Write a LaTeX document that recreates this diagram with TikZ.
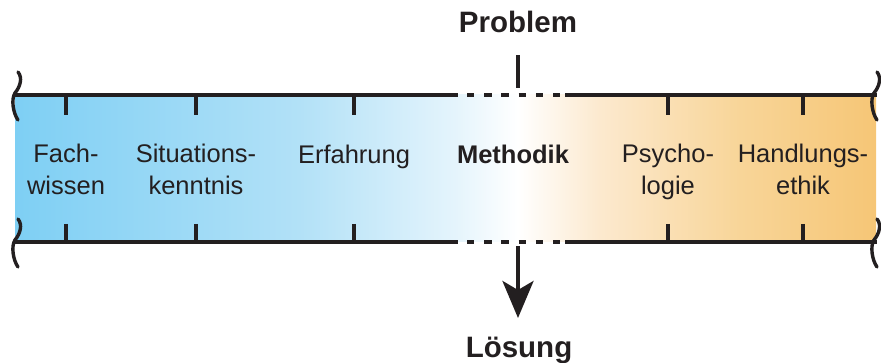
\documentclass[tikz,border=0pt]{standalone}
\usepackage{fontspec}
\setmainfont{Liberation Sans}
\usetikzlibrary{arrows.meta}
\definecolor{ink}{HTML}{231F20}
\definecolor{bandA}{RGB}{126,207,244}
\definecolor{bandB}{RGB}{178,225,247}
\definecolor{bandC}{RGB}{228,244,252}
\definecolor{bandD}{RGB}{252,233,206}
\definecolor{bandE}{RGB}{248,213,152}
\definecolor{bandF}{RGB}{246,198,118}
% horizontal colour run of the band (25bp = left edge, 75bp = right edge)
\pgfdeclarehorizontalshading{bandshade}{100bp}{%
  color(0bp)=(bandA); color(25bp)=(bandA); color(41.5bp)=(bandB);
  color(50.5bp)=(bandC); color(54.2bp)=(white); color(59bp)=(bandD);
  color(67.1bp)=(bandE); color(75bp)=(bandF); color(100bp)=(bandF)}
\tikzset{
  rule/.style={ink, line width=3.6pt},
  tick/.style={ink, line width=4pt},
  wave/.style={ink, line width=3.4pt, line cap=round},
  gap/.style={ink, line width=3.6pt, dash pattern=on 7.4pt off 9.8pt},
  lbl/.style={text=ink, align=center, font=\fontsize{25.5pt}{32pt}\selectfont, anchor=base, inner sep=0pt},
  head/.style={text=ink, font=\bfseries\fontsize{29.5pt}{34pt}\selectfont, anchor=base, inner sep=0pt},
}
\begin{document}
\begin{tikzpicture}[x=1pt,y=-1pt]
\useasboundingbox (0,0) rectangle (881,363);
% coloured band
\shade[shading=bandshade] (15,95) rectangle (876,242);
% upper and lower rules, broken in the middle
\foreach \y in {95,242}{
  \draw[rule] (14,\y) -- (458,\y);
  \draw[gap] (467,\y) -- (561,\y);
  \draw[rule] (565,\y) -- (877,\y);
}
% ticks
\foreach \x in {66,196,354,668,803}{
  \draw[tick] (\x,93.5) -- (\x,115);
  \draw[tick] (\x,224) -- (\x,243.5);
}
% wavy break marks at both ends
\foreach \dx in {0,859}{
  \foreach \dy in {0,147}{
    \draw[wave] (18+\dx,72+\dy) .. controls (23+\dx,78+\dy) and (20+\dx,87+\dy) .. (15+\dx,93+\dy)
                .. controls (11+\dx,99+\dy) and (13+\dx,113+\dy) .. (18+\dx,120+\dy);
  }
}
% labels (two-line labels sit on the baseline of their last line)
\node[lbl] (fach) at (66,195) {Fach-\\wissen};
\node[lbl] (sit) at (196,195) {Situations-\\kenntnis};
\node[lbl] (erf) at (354,164) {Erfahrung};
\node[lbl, font=\bfseries\fontsize{25.5pt}{32pt}\selectfont] (meth) at (513,164) {Methodik};
\node[lbl] (psy) at (668,195) {Psycho-\\logie};
\node[lbl] (hand) at (803,195) {Handlungs-\\ethik};
% problem and solution
\node[head] (prob) at (518,33) {Problem};
\node[head] (loes) at (519,357) {Lösung};
\coordinate (probend) at (518,88);
\coordinate (solstart) at (518,246);
\draw[tick] (prob.south) ++(0,22) coordinate (probtop) -- (probend);
\draw[tick, -{Stealth[length=37pt,width=31pt,inset=9pt]}] (solstart) -- (518,318) coordinate (soltip);
\end{tikzpicture}
\end{document}
